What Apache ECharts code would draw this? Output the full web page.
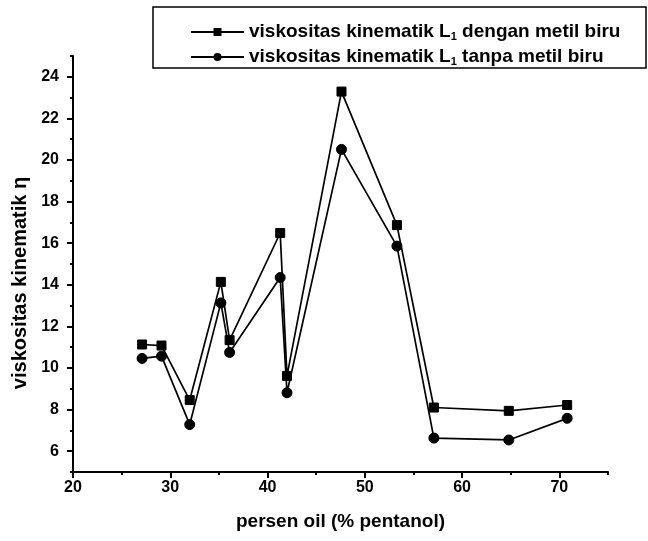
<!DOCTYPE html>
<html>
<head>
<meta charset="utf-8">
<script src="https://cdn.jsdelivr.net/npm/echarts@6/dist/echarts.min.js"></script>
<style>
  html, body { margin: 0; padding: 0; background: #ffffff; }
  #chart { width: 648px; height: 541px; }
</style>
</head>
<body>
<div id="chart"></div>
<script>
// Oil percentage (% pentanol) for each sample
const persenOil = [27.1, 29.1, 32.0, 35.2, 36.1, 41.3, 42.0, 47.6, 53.3, 57.1, 64.8, 70.8];
// Kinematic viscosity of L1 with methylene blue
const denganMetilBiru = [11.13, 11.08, 8.46, 14.14, 11.34, 16.49, 9.62, 23.29, 16.87, 8.1, 7.94, 8.22];
// Kinematic viscosity of L1 without methylene blue
const tanpaMetilBiru = [10.46, 10.57, 7.28, 13.13, 10.75, 14.35, 8.81, 20.51, 15.86, 6.63, 6.54, 7.58];

const seriesNames = [
  'viskositas kinematik L1 dengan metil biru',
  'viskositas kinematik L1 tanpa metil biru'
];

// Axis ticks
const xMajorTicks = [20, 30, 40, 50, 60, 70];
const xMinorTicks = [25, 35, 45, 55, 65, 75];
const yMajorTicks = [6, 8, 10, 12, 14, 16, 18, 20, 22, 24];
const yMinorTicks = [5, 7, 9, 11, 13, 15, 17, 19, 21, 23, 25];

const FONT = '"Liberation Sans", Arial, Helvetica, sans-serif';
const INK = '#000000';

const pairs = (xs, ys) => xs.map((x, i) => [x, ys[i]]);

const chart = echarts.init(document.getElementById('chart'), null, { renderer: 'canvas' });

const xAxisBase = {
  type: 'value', min: 20, max: 75, position: 'bottom',
  splitLine: { show: false }
};
const yAxisBase = {
  type: 'value', min: 5, max: 25, position: 'left',
  splitLine: { show: false }
};

chart.setOption({
  backgroundColor: '#ffffff',
  animation: false,
  textStyle: { fontFamily: FONT, color: INK },
  grid: { left: 73, right: 40, top: 56, bottom: 69, containLabel: false },
  xAxis: [
    Object.assign({}, xAxisBase, {
      name: 'persen oil (% pentanol)',
      nameLocation: 'middle',
      nameGap: 40,
      nameTextStyle: { fontFamily: FONT, fontSize: 19, fontWeight: 'bold', color: INK },
      axisLine: { onZero: false, lineStyle: { color: INK, width: 2 } },
      axisTick: { show: true, inside: false, length: 6, customValues: xMajorTicks, lineStyle: { color: INK, width: 2 } },
      axisLabel: { customValues: xMajorTicks, margin: 8, fontFamily: FONT, fontSize: 16, fontWeight: 'bold', color: INK }
    }),
    Object.assign({}, xAxisBase, {
      axisLine: { show: false, onZero: false },
      axisTick: { show: true, inside: false, length: 3, customValues: xMinorTicks, lineStyle: { color: INK, width: 2 } },
      axisLabel: { show: false }
    })
  ],
  yAxis: [
    Object.assign({}, yAxisBase, {
      name: 'viskositas kinematik \u03b7',
      nameLocation: 'middle',
      nameGap: 42,
      nameRotate: 90,
      nameTextStyle: { fontFamily: FONT, fontSize: 20, fontWeight: 'bold', color: INK, padding: [0, 38, 0, 0] },
      axisLine: { onZero: false, lineStyle: { color: INK, width: 2 } },
      axisTick: { show: true, inside: false, length: 6, customValues: yMajorTicks, lineStyle: { color: INK, width: 2 } },
      axisLabel: { customValues: yMajorTicks, margin: 14, fontFamily: FONT, fontSize: 16, fontWeight: 'bold', color: INK }
    }),
    Object.assign({}, yAxisBase, {
      axisLine: { show: false, onZero: false },
      axisTick: { show: true, inside: false, length: 3, customValues: yMinorTicks, lineStyle: { color: INK, width: 2 } },
      axisLabel: { show: false }
    })
  ],
  legend: {
    orient: 'vertical',
    left: 190,
    top: 22,
    padding: 0,
    itemWidth: 53,
    itemHeight: 10,
    itemGap: 5,
    data: seriesNames,
    formatter: (name) => name.replace('L1', 'L{s|1}'),
    textStyle: {
      fontFamily: FONT, fontSize: 19, fontWeight: 'bold', color: INK, lineHeight: 20,
      rich: {
        s: { fontFamily: FONT, fontSize: 11, fontWeight: 'bold', color: INK, verticalAlign: 'bottom', lineHeight: 11 }
      }
    }
  },
  graphic: [
    {
      type: 'rect',
      shape: { x: 153, y: 7, width: 493, height: 61 },
      style: { fill: null, stroke: INK, lineWidth: 1.5 },
      silent: true
    }
  ],
  series: [
    {
      name: seriesNames[0],
      type: 'line',
      xAxisIndex: 0, yAxisIndex: 0,
      data: pairs(persenOil, denganMetilBiru),
      symbol: 'rect',
      symbolSize: 9,
      showAllSymbol: true,
      lineStyle: { color: INK, width: 1.7 },
      itemStyle: { color: INK, borderColor: INK },
      emphasis: { disabled: true }
    },
    {
      name: seriesNames[1],
      type: 'line',
      xAxisIndex: 0, yAxisIndex: 0,
      data: pairs(persenOil, tanpaMetilBiru),
      symbol: 'circle',
      symbolSize: 10,
      showAllSymbol: true,
      lineStyle: { color: INK, width: 1.7 },
      itemStyle: { color: INK, borderColor: INK },
      emphasis: { disabled: true }
    }
  ]
});
</script>
</body>
</html>
